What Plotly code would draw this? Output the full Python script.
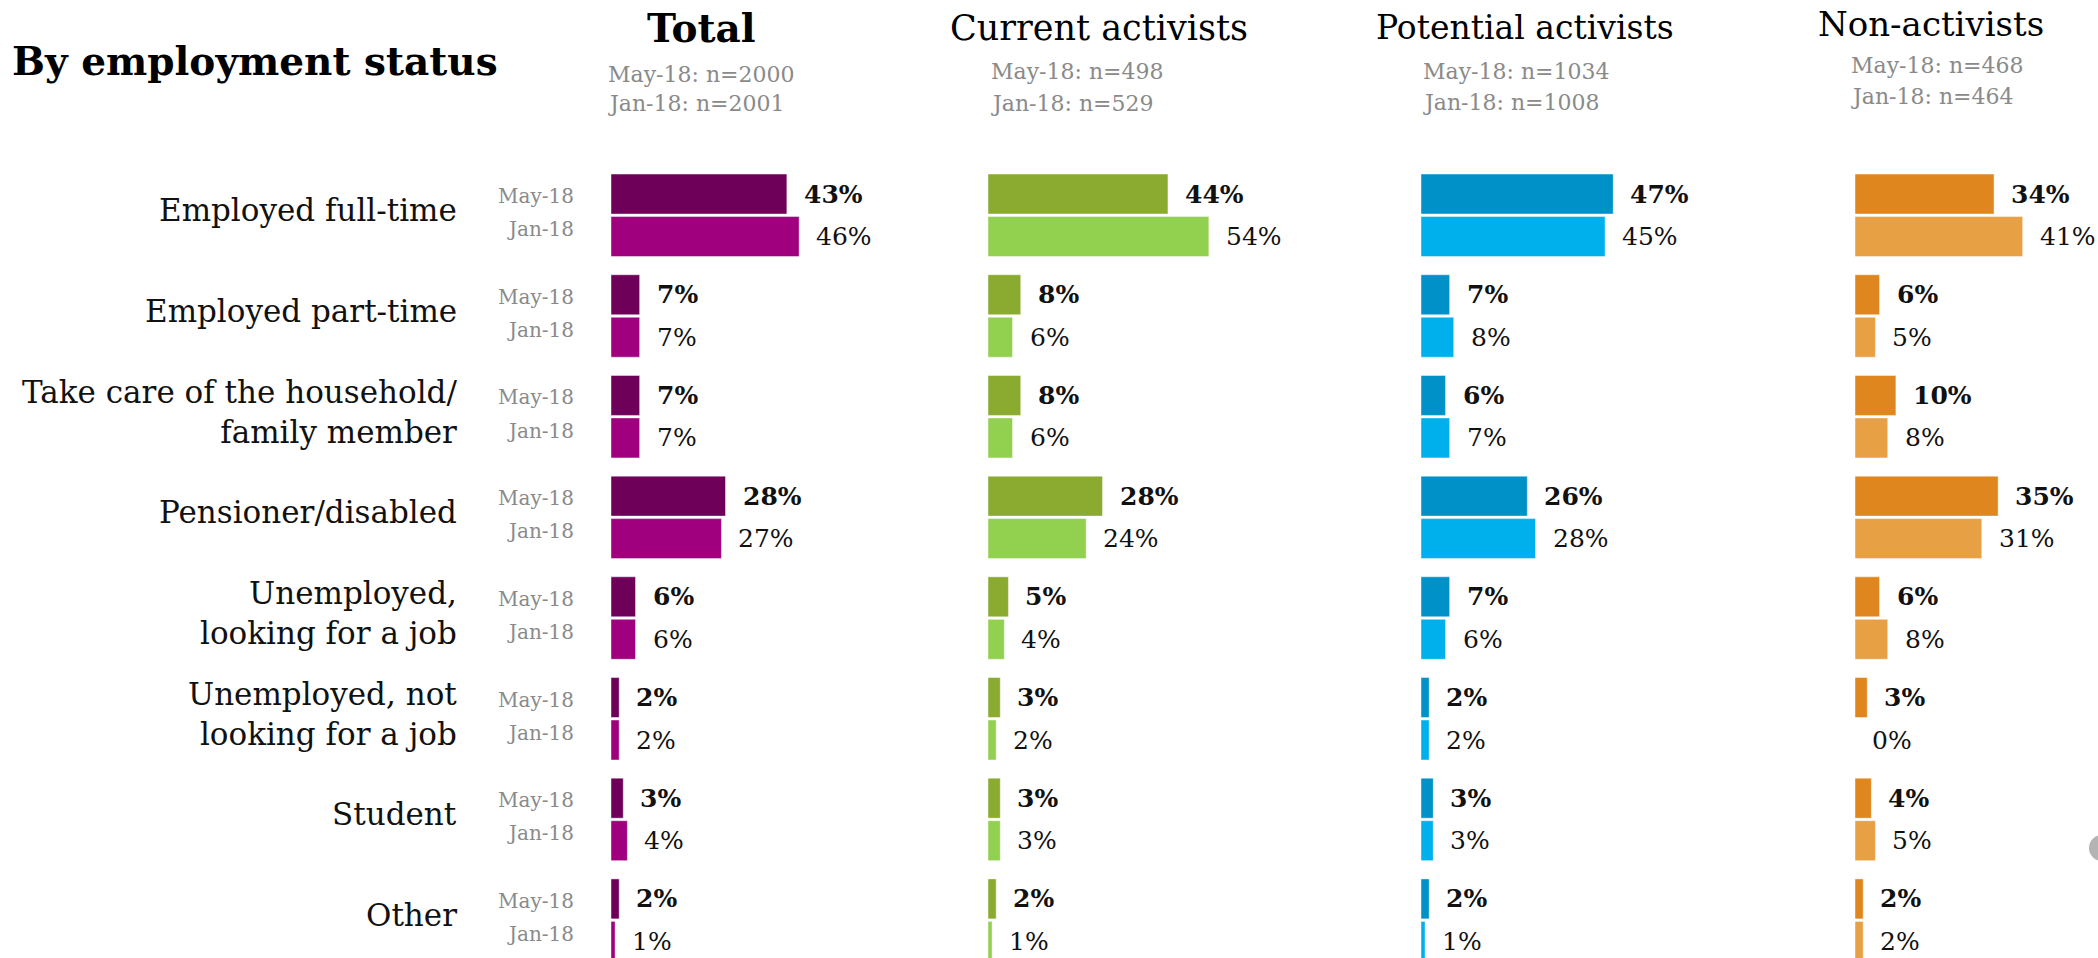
import plotly.graph_objects as go

# ---- data -------------------------------------------------------------
categories = [
    "Employed full-time",
    "Employed part-time",
    "Take care of the household/<br>family member",
    "Pensioner/disabled",
    "Unemployed,<br>looking for a job",
    "Unemployed, not<br>looking for a job",
    "Student",
    "Other",
]
periods = ["May-18", "Jan-18"]

groups = ["Total", "Current activists", "Potential activists", "Non-activists"]
sample_may = [2000, 498, 1034, 468]
sample_jan = [2001, 529, 1008, 464]

total_may = [43, 7, 7, 28, 6, 2, 3, 2]
total_jan = [46, 7, 7, 27, 6, 2, 4, 1]
current_may = [44, 8, 8, 28, 5, 3, 3, 2]
current_jan = [54, 6, 6, 24, 4, 2, 3, 1]
potential_may = [47, 7, 6, 26, 7, 2, 3, 2]
potential_jan = [45, 8, 7, 28, 6, 2, 3, 1]
non_may = [34, 6, 10, 35, 6, 3, 4, 2]
non_jan = [41, 5, 8, 31, 8, 0, 5, 2]

series = [
    (total_may, total_jan),
    (current_may, current_jan),
    (potential_may, potential_jan),
    (non_may, non_jan),
]

# ---- style ------------------------------------------------------------
W, H = 2098, 958
FONT = "DejaVu Serif"
GREY = "#8a8a8a"
colors = [
    ("#6f0059", "#a0007d"),
    ("#8aab2f", "#92d050"),
    ("#0091c8", "#00b0ed"),
    ("#e0861e", "#e8a045"),
]
panel_left_px = [611, 988, 1421, 1855]   # pixel where 0% sits
px_per_pct = 4.09
x_max = 58
jan_offset = 0.422      # Jan bar below May bar (row units)
bar_w = 0.397
y_range = [7.587, -1.927]

fig = go.Figure()
rows = list(range(len(categories)))

for k, (vals, cols) in enumerate(zip(series, colors)):
    xa = "x" if k == 0 else f"x{k + 1}"
    for p, (v, c) in enumerate(zip(vals, cols)):
        fig.add_trace(go.Bar(
            orientation="h",
            x=v,
            y=[r + p * jan_offset for r in rows],
            width=bar_w,
            marker=dict(color=c, line=dict(color="rgba(255,255,255,0.45)", width=1)),
            xaxis=xa, yaxis="y",
            showlegend=False, hoverinfo="skip",
        ))
        # value labels
        for r, val in zip(rows, v):
            fig.add_annotation(
                x=val, y=r + p * jan_offset, xref=xa, yref="y",
                text=(f"<b>{val}%</b>" if p == 0 else f"{val}%"),
                showarrow=False, xanchor="left", yanchor="middle", xshift=15,
                font=dict(family=FONT, size=25, color="#111111"),
            )

# axes
layout_axes = {}
for k in range(4):
    key = "xaxis" if k == 0 else f"xaxis{k + 1}"
    x0 = panel_left_px[k] / W
    x1 = (panel_left_px[k] + x_max * px_per_pct) / W
    layout_axes[key] = dict(
        domain=[x0, min(x1, 1.0)], range=[0, x_max], visible=False,
        anchor="y", fixedrange=True,
    )

fig.update_layout(
    **layout_axes,
    yaxis=dict(range=y_range, domain=[0, 1], visible=False, fixedrange=True),
    width=W, height=H,
    margin=dict(l=0, r=0, t=0, b=0),
    paper_bgcolor="white", plot_bgcolor="white",
    barmode="overlay",
    font=dict(family=FONT),
)

# category labels
for r, cat in zip(rows, categories):
    fig.add_annotation(
        x=459 / W, y=r + 0.16, xref="paper", yref="y",
        text=cat, showarrow=False, xanchor="right", yanchor="middle", align="right",
        font=dict(family=FONT, size=31, color="#111111"),
    )
    for p, (lab, off) in enumerate(zip(periods, [0.02, 0.35])):
        fig.add_annotation(
            x=576 / W, y=r + off, xref="paper", yref="y",
            text=lab, showarrow=False, xanchor="right", yanchor="middle",
            font=dict(family=FONT, size=20, color=GREY),
        )

# headings
fig.add_annotation(
    x=10 / W, y=1 - 61 / H, xref="paper", yref="paper",
    text="<b>By employment status</b>", showarrow=False,
    xanchor="left", yanchor="middle",
    font=dict(family=FONT, size=39, color="#000000"),
)
header_cx = [701, 1099, 1525, 1931]
header_cy = [28, 28, 28, 24]
header_size = [39, 35, 33, 34]
sub_left = [606, 989, 1421, 1849]
sub_y = [(74, 103), (72, 103), (72, 102), (65, 97)]
for k, g in enumerate(groups):
    fig.add_annotation(
        x=header_cx[k] / W, y=1 - header_cy[k] / H, xref="paper", yref="paper",
        text=(f"<b>{g}</b>" if k == 0 else g), showarrow=False,
        xanchor="center", yanchor="middle",
        font=dict(family=FONT, size=header_size[k], color="#000000"),
    )
    for txt, yy in zip([f"May-18: n={sample_may[k]}", f"Jan-18: n={sample_jan[k]}"], sub_y[k]):
        fig.add_annotation(
            x=sub_left[k] / W, y=1 - yy / H, xref="paper", yref="paper",
            text=txt, showarrow=False, xanchor="left", yanchor="middle",
            font=dict(family=FONT, size=22, color=GREY),
        )

# small grey scroll knob at the right edge
fig.add_shape(
    type="circle", xref="paper", yref="paper",
    x0=2089 / W, x1=2115 / W, y0=1 - 861 / H, y1=1 - 835 / H,
    fillcolor="#b4b4b4", line=dict(width=0), layer="above",
)

fig.write_html("out.html", config={"displayModeBar": False})
